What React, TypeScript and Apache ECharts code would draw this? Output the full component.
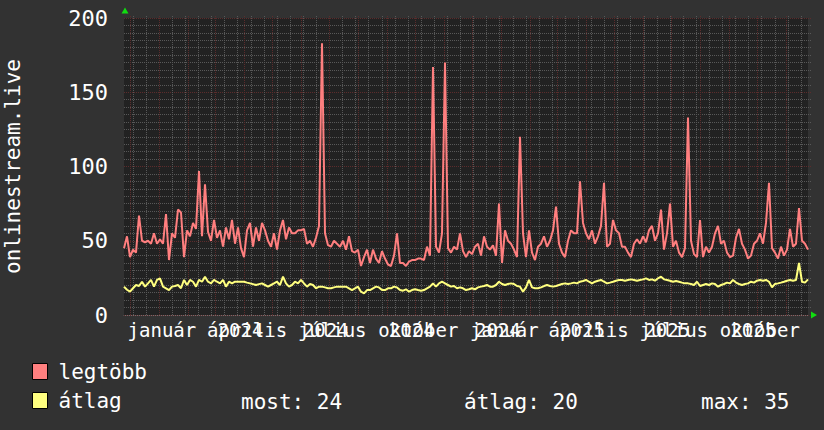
import React, { useEffect, useRef } from "react";
import * as echarts from "echarts";

// ---------- data ----------
const START_UTC = Date.UTC(2023, 10, 24, 12); // left edge of the plot
const SPAN_DAYS = 731; // two years shown

// where the date labels sit, and their texts
const quarterLabelDates = ["2024-01-04", "2024-04-04", "2024-07-04", "2024-10-04", "2025-01-04", "2025-04-04", "2025-07-04", "2025-10-04"];
const quarterLabelNames = ["január", "április", "július", "október", "január", "április", "július", "október"];
const yearLabelDates = ["2024-03-28", "2024-06-27", "2024-09-27", "2024-12-28", "2025-03-28", "2025-06-27", "2025-09-27"];
const yearLabelNames = ["2024", "2024", "2024", "2024", "2025", "2025", "2025"];
const minorGridFirstDate = "2023-12-04";
const minorGridStepDays = 14;

const yTicks = [0, 50, 100, 150, 200];
const seriesNames = ["legtöbb", "átlag"];
const seriesColors = ["#ff7f7f", "#ffff7f"];
const statLabels = ["most", "átlag", "max"];
const statValues = [24, 20, 35];
const axisTitle = "onlinestream.live";

// "legtöbb" (maximum) samples, evenly spaced over the two years
const maxValues = [
  45, 53, 39, 44, 42, 67, 50, 49, 50, 48,
  55, 48, 51, 48, 68, 37, 55, 52, 71, 69,
  39, 57, 53, 62, 58, 97, 53, 88, 56, 50,
  64, 52, 57, 46, 59, 51, 64, 48, 59, 45,
  39, 57, 62, 46, 59, 50, 62, 57, 50, 46,
  55, 44, 57, 64, 51, 59, 55, 55, 57, 57,
  58, 48, 50, 46, 52, 60, 183, 55, 47, 46,
  50, 48, 46, 50, 44, 53, 43, 42, 44, 33,
  39, 44, 35, 44, 38, 35, 43, 38, 34, 33,
  40, 55, 35, 35, 33, 36, 37, 37, 38, 38,
  37, 46, 40, 167, 46, 42, 55, 170, 45, 42,
  46, 44, 55, 43, 39, 43, 41, 46, 48, 40,
  53, 46, 44, 47, 40, 75, 35, 57, 50, 48,
  44, 39, 120, 55, 39, 57, 42, 37, 46, 48,
  53, 46, 50, 57, 73, 48, 42, 39, 50, 57,
  55, 55, 90, 62, 55, 51, 57, 48, 53, 60,
  89, 46, 48, 64, 57, 55, 46, 46, 42, 39,
  48, 51, 48, 53, 49, 57, 60, 50, 55, 71,
  44, 55, 75, 46, 50, 42, 39, 45, 133, 50,
  41, 39, 64, 39, 46, 42, 46, 55, 60, 48,
  50, 42, 39, 40, 52, 58, 48, 44, 38, 40,
  48, 50, 55, 48, 62, 89, 45, 42, 38, 46,
  40, 44, 58, 46, 48, 72, 50, 48, 44,
];

// "átlag" (average) samples
const avgValues = [
  19, 17, 15.7, 18, 20.2, 19.5, 22.4, 19.1, 21.3, 23.6,
  19.1, 23.6, 24.7, 19.1, 18, 16.8, 19.1, 19.5, 20.2, 18,
  23.6, 20.2, 23.6, 22.4, 19.1, 23.6, 22.4, 25.8, 22.4, 21.3,
  23.6, 22.4, 21.3, 23.6, 19.1, 22.4, 21.3, 22.4, 22.4, 22.4,
  22.4, 21.8, 21.3, 20.8, 20.2, 20.8, 21.3, 20.2, 19.1, 20.2,
  21.3, 22.4, 20.2, 25.8, 21.3, 19.1, 20.2, 22.4, 21.3, 23.6,
  21.3, 19.1, 20.9, 20.2, 18, 19.1, 19.1, 18.6, 18, 18,
  18.6, 19.1, 19.1, 19.1, 19.1, 18, 16.8, 18, 19.1, 15.7,
  14.6, 16.8, 16.8, 18, 19.1, 18.6, 16.8, 16.8, 18, 18,
  19.1, 18.6, 16.8, 16.4, 17.3, 15.7, 16.8, 17.3, 16.8, 16.4,
  16.8, 18, 19.1, 21.3, 19.1, 21.3, 22.4, 21.3, 20.2, 19.1,
  19.5, 18, 18.6, 18, 16.8, 17.3, 18, 17.3, 18.6, 19.1,
  19.5, 20.2, 19.1, 19.1, 20.2, 22.4, 20.9, 20.2, 20.9, 21.3,
  20.9, 19.5, 19.1, 15.7, 18.6, 23.6, 18.6, 18, 18, 18.6,
  19.5, 20.2, 19.5, 19.1, 19.5, 20.2, 20.9, 21.3, 20.9, 21.3,
  21.8, 21.3, 22.4, 22.9, 23.6, 22.4, 21.3, 22.4, 23.1, 23.6,
  22.4, 21.3, 21.8, 22.4, 23.1, 23.6, 23.6, 23.1, 23.6, 24,
  23.6, 23.1, 23.6, 24, 24.7, 23.6, 24, 23.1, 24.7, 25.8,
  24, 23.6, 23.1, 22.4, 22.9, 22.4, 21.8, 21.3, 21.3, 20.9,
  20.2, 22.4, 19.5, 20.2, 20.9, 20.2, 21.3, 20.9, 19.1, 20.2,
  20.9, 21.8, 21.3, 23.6, 21.8, 20.9, 20.2, 20.9, 21.3, 22.4,
  21.8, 23.1, 23.6, 23.1, 23.6, 22.4, 18.6, 20.9, 21.3, 21.8,
  22.4, 23.1, 23.6, 23.1, 23.6, 35, 22.4, 21.8, 24,
];

// ---------- helpers ----------
const FONT = '"DejaVu Sans Mono", monospace';
const dayOf = (iso: string) => (Date.parse(iso + "T00:00:00Z") - START_UTC) / 86400000;

function monthStartDays(): number[] {
  const out: number[] = [];
  const s = new Date(START_UTC);
  let y = s.getUTCFullYear();
  let m = s.getUTCMonth() + 1;
  for (;;) {
    if (m > 11) { m = 0; y += 1; }
    const d = (Date.UTC(y, m, 1) - START_UTC) / 86400000;
    if (d > SPAN_DAYS) break;
    out.push(d);
    m += 1;
  }
  return out;
}

function minorGridDays(): number[] {
  const out: number[] = [];
  for (let d = dayOf(minorGridFirstDate); d <= SPAN_DAYS; d += minorGridStepDays) out.push(d);
  return out;
}

const toPairs = (vals: number[]) => vals.map((v, i) => [(i * SPAN_DAYS) / (vals.length - 1), v]);

export default function App() {
  const ref = useRef<HTMLDivElement>(null);

  useEffect(() => {
    if (!ref.current) return;
    const chart = echarts.init(ref.current, undefined, { renderer: "svg" });

    const quarterDays = quarterLabelDates.map(dayOf);
    const yearDays = yearLabelDates.map(dayOf);
    const monthDays = monthStartDays();
    const minorDays = minorGridDays();

    const gridLeft = 124, gridTop = 18, gridW = 684, gridH = 297;
    const majorColor = "#5c2c2c";
    const minorColor = "#585858";
    const dash = [1, 1];

    const statX = [241, 464, 701];

    chart.setOption({
      animation: false,
      backgroundColor: "#323232",
      textStyle: { fontFamily: FONT },
      grid: {
        left: gridLeft, top: gridTop, width: gridW, height: gridH,
        containLabel: false, outerBoundsMode: "none",
        show: true, backgroundColor: "#222222", borderWidth: 0,
      },
      legend: {
        data: seriesNames,
        orient: "vertical",
        left: 32, top: 361,
        padding: 0,
        itemWidth: 15, itemHeight: 16, itemGap: 8,
        icon: "rect",
        itemStyle: { borderColor: "#000", borderWidth: 1 },
        textStyle: { color: "#fff", fontFamily: FONT, fontSize: 21, lineHeight: 16, padding: [0, 0, 0, 6] },
        selectedMode: false,
      },
      xAxis: [
        {
          type: "value", min: 0, max: SPAN_DAYS, position: "bottom",
          axisLine: { show: false },
          axisTick: {
            show: true, inside: true, length: gridH + 3, customValues: minorDays,
            lineStyle: { color: minorColor, width: 1, type: dash },
          },
          axisLabel: {
            show: true, customValues: yearDays, margin: 5,
            color: "#fff", fontFamily: FONT, fontSize: 19,
            formatter: (v: number) => {
              const k = yearDays.findIndex((d) => Math.abs(d - v) < 1e-6);
              return k >= 0 ? yearLabelNames[k] : "";
            },
          },
          splitLine: { show: false },
        },
        {
          type: "value", min: 0, max: SPAN_DAYS, position: "bottom",
          axisLine: { show: true, lineStyle: { color: "#707070", width: 1 } },
          axisTick: {
            show: true, inside: true, length: gridH + 3, customValues: monthDays,
            lineStyle: { color: majorColor, width: 1, type: dash },
          },
          axisLabel: {
            show: true, customValues: quarterDays, margin: 5,
            color: "#fff", fontFamily: FONT, fontSize: 19,
            formatter: (v: number) => {
              const k = quarterDays.findIndex((d) => Math.abs(d - v) < 1e-6);
              return k >= 0 ? quarterLabelNames[k] : "";
            },
          },
          splitLine: { show: false },
        },
      ],
      yAxis: {
        type: "value", min: yTicks[0], max: yTicks[yTicks.length - 1], interval: yTicks[1] - yTicks[0],
        name: axisTitle, nameLocation: "middle", nameGap: 101, nameRotate: 90,
        nameTextStyle: { color: "#fff", fontFamily: FONT, fontSize: 21 },
        axisLine: { show: false },
        axisTick: {
          show: true, inside: true, length: gridW + 3,
          lineStyle: { color: majorColor, width: 1, type: dash },
        },
        minorTick: {
          show: true, splitNumber: 10, length: gridW + 3,
          lineStyle: { color: minorColor, width: 1, type: dash },
        },
        axisLabel: { color: "#fff", fontFamily: FONT, fontSize: 22, margin: 16 },
        splitLine: { show: false },
        minorSplitLine: { show: false },
      },
      series: [
        {
          name: seriesNames[0], type: "line", xAxisIndex: 0, data: toPairs(maxValues),
          showSymbol: false, symbol: "none", color: seriesColors[0],
          lineStyle: { width: 2, color: seriesColors[0] }, z: 3,
        },
        {
          name: seriesNames[1], type: "line", xAxisIndex: 0, data: toPairs(avgValues),
          showSymbol: false, symbol: "none", color: seriesColors[1],
          lineStyle: { width: 2, color: seriesColors[1] }, z: 4,
        },
      ],
      graphic: [
        { type: "polygon", shape: { points: [[121.5, 13.5], [128.5, 13.5], [125, 7.5]] }, style: { fill: "#11dd11" }, silent: true },
        { type: "polygon", shape: { points: [[811, 311.5], [811, 318.5], [817, 315]] }, style: { fill: "#11dd11" }, silent: true },
        ...statLabels.map((lab, i) => ({
          type: "text", x: statX[i], y: 402, silent: true,
          style: { text: `${lab}: ${statValues[i]}`, fill: "#fff", font: `21px ${FONT}`, verticalAlign: "middle" },
        })),
      ],
    });

    return () => chart.dispose();
  }, []);

  return <div ref={ref} style={{ position: "fixed", left: 0, top: 0, width: 824, height: 430 }} />;
}
